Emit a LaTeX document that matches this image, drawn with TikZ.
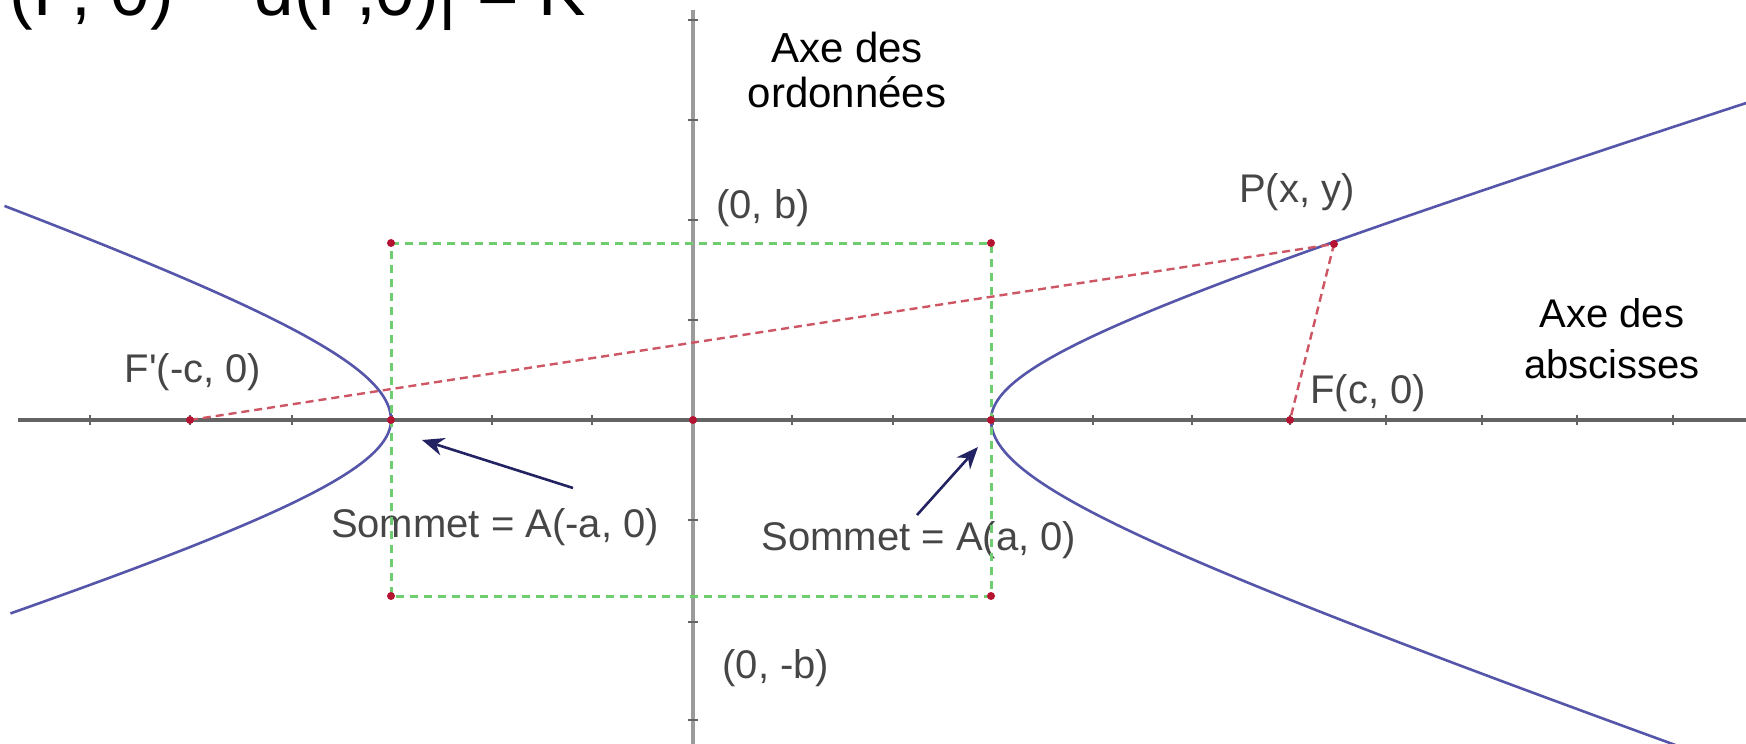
\documentclass[tikz,border=0pt]{standalone}
\usepackage{fontspec}
\setmainfont{Liberation Sans}[Ligatures=TeXOff]
\usetikzlibrary{arrows.meta}
\definecolor{hypc}{RGB}{85,85,170}
\definecolor{axh}{RGB}{100,100,100}
\definecolor{axv}{RGB}{155,155,155}
\definecolor{redd}{RGB}{205,85,100}
\definecolor{greend}{RGB}{110,205,110}
\definecolor{arrc}{RGB}{35,35,100}
\definecolor{lblc}{RGB}{70,70,70}
\definecolor{ptc}{RGB}{180,20,50}
\begin{document}
\begin{tikzpicture}[x=0.5pt,y=-0.5pt,
  hyp/.style={draw=hypc, line width=1.3pt},
  haxis/.style={draw=axh, line width=1.8pt},
  vaxis/.style={draw=axv, line width=2pt},
  reddash/.style={draw=redd, line width=1.2pt, dash pattern=on 4pt off 2.5pt},
  greendash/.style={draw=greend, line width=1.5pt, dash pattern=on 4pt off 3pt},
  pointer/.style={draw=arrc, line width=1.3pt, -{Stealth[length=11pt,width=9pt]}},
  glabel/.style={text=lblc, inner sep=0pt, anchor=base, font=\fontsize{20}{24}\selectfont},
  blabel/.style={text=black, inner sep=0pt, anchor=north, align=center},
  ptmark/.style={fill=ptc, circle, inner sep=0pt, minimum size=4pt},
  tickmark/.style={draw=axh, line width=1pt}]
\useasboundingbox (0,0) rectangle (1746,744);
\clip (0,0) rectangle (1746,744);
% key points
\coordinate (O) at (693,420);
\coordinate (Fp) at (190,420);
\coordinate (F) at (1290,420);
\coordinate (P) at (1334,244);
\coordinate (Am) at (391,420);
\coordinate (A) at (991,420);
\coordinate (R1) at (391,243);
\coordinate (R2) at (991,243);
\coordinate (R3) at (991,596);
\coordinate (R4) at (391,596);
\coordinate (xL) at (18,420);
\coordinate (xR) at (1746,420);
\coordinate (yT) at (693,10);
\coordinate (yB) at (693,744);
% axes
\draw[vaxis] (yT) -- (yB);
\draw[haxis] (xL) -- (xR);
\foreach \x in {90,190,292,392,492,592,792,893,993,1093,1192,1290,1386,1482,1577,1673}
  \draw[tickmark] (\x,415) -- (\x,425);
\foreach \y in {20,120,220,320,520,622,720}
  \draw[tickmark] (688,\y) -- (698,\y);
% hyperbola
\draw[hyp] plot[domain=0:1.96, samples=80, variable=\t] ({691+300*cosh(\t)},{420-94*sinh(\t)});
\draw[hyp] plot[domain=0:1.87, samples=80, variable=\t] ({691+300*cosh(\t)},{420+104*sinh(\t)});
\draw[hyp] plot[domain=0:1.47, samples=80, variable=\t] ({691-300*cosh(\t)},{420-104*sinh(\t)});
\draw[hyp] plot[domain=0:1.46, samples=80, variable=\t] ({691-300*cosh(\t)},{420+95*sinh(\t)});
% focal distances
\draw[reddash] (Fp) -- (P) -- (F);
% labels
\node[glabel] (lFp) at (193,382) {F'(-c, 0)};
\node[glabel] (lF) at (1368,403) {F(c, 0)};
\node[glabel] (lP) at (1297,202) {P(x, y)};
\node[glabel] (lb) at (763,218) {(0, b)};
\node[glabel] (lmb) at (776,678) {(0, -b)};
\node[glabel] (lAm) at (495,537) {Sommet = A(-a, 0)};
\node[glabel] (lA) at (919,550) {Sommet = A(a, 0)};
\node[blabel, font=\fontsize{21}{22.5}\selectfont] (ly) at (847,32) {Axe des\\ordonnées};
\node[blabel, font=\fontsize{20}{25.5}\selectfont] (lx) at (1612,298) {Axe des\\abscisses};
\node[inner sep=0pt, anchor=base west, font=\fontsize{35.5}{41}\selectfont] (eq) at (9,15) {(P, 0) − d(P,0)| = K};
% rectangle
\draw[greendash] (R1) -- (R2) -- (R3) -- (R4) -- cycle;
% points
\foreach \p in {O,Fp,F,P,Am,A,R1,R2,R3,R4}
  \node[ptmark] at (\p) {};
% pointers
\coordinate (aLt) at (573,488);
\coordinate (aLh) at (422,440);
\coordinate (aRt) at (917,515);
\coordinate (aRh) at (978,447);
\draw[pointer] (aLt) -- (aLh);
\draw[pointer] (aRt) -- (aRh);
\end{tikzpicture}
\end{document}
